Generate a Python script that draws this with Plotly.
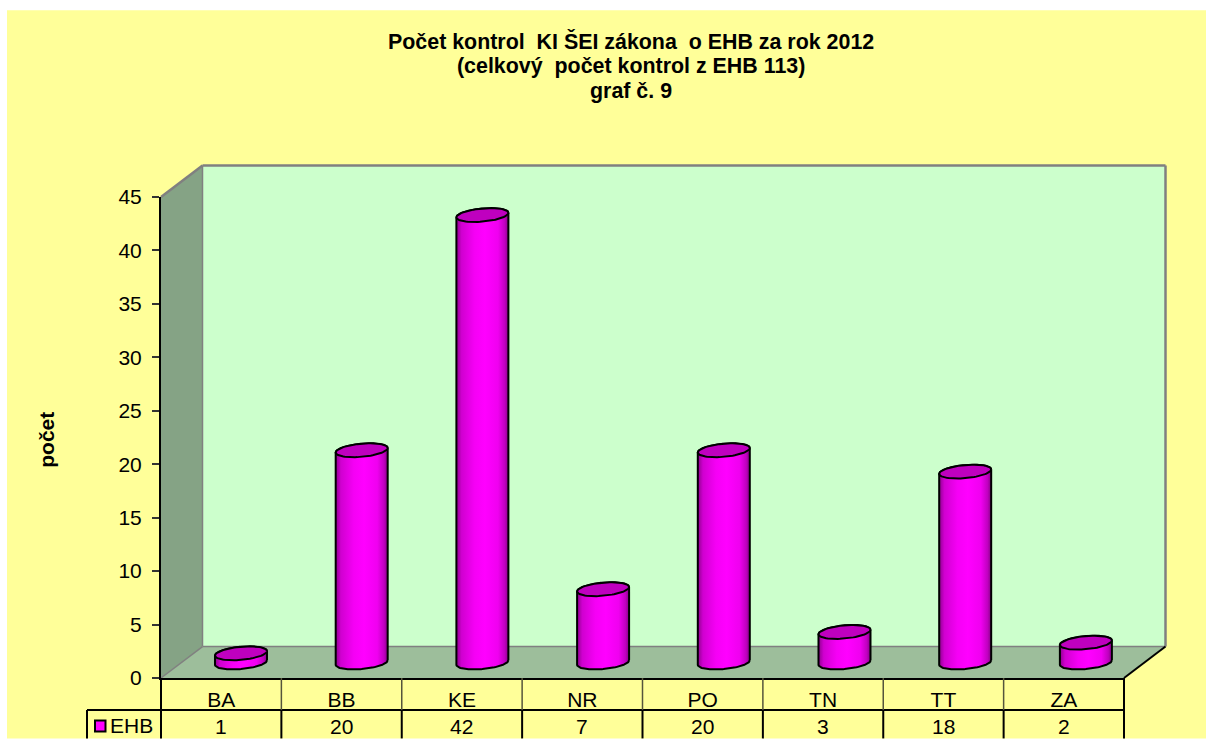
import math
import plotly.graph_objects as go

# ---- data ----
categories = ["BA", "BB", "KE", "NR", "PO", "TN", "TT", "ZA"]
ehb_values = [1, 20, 42, 7, 20, 3, 18, 2]
y_ticks = [0, 5, 10, 15, 20, 25, 30, 35, 40, 45]
series_name = "EHB"
title_lines = [
    "Počet kontrol\u00a0\u00a0KI ŠEI zákona\u00a0\u00a0o EHB za rok 2012",
    "(celkový\u00a0\u00a0počet kontrol z EHB 113)",
    "graf č. 9",
]
y_title = "počet"

# ---- page geometry (pixels) ----
W, H = 1206, 739
L, R, T, B = 161, 1124, 197, 678.5
DX, DY = 41.5, 31.5
FONT = "Liberation Sans"
YELLOW, BACK, SIDE, FLOOR = "#FFFF99", "#CCFFCC", "#85A385", "#9DBE9B"
GREY = "#808080"
MAG_TOP = "#BF00BF"

px_x = lambda v: (v - L) / (R - L)
px_y = lambda v: (B - v) / (B - T)
unit_x = (R - L) / len(categories)
unit_y = (B - T) / 45
bar_shift = 19.8 / unit_x          # depth of the bars, in category units
bar_spread = 120.7 / unit_x        # the back row is drawn slightly wider than the front
bar_base = (B - 664.5) / unit_y    # depth of the bars, in value units
foot_base = (B - 663) / unit_y     # centre of the foot ellipse
a_x = 26 / unit_x
b_y = 6.6 / unit_y
k_y = 2.25 / unit_y                # tilt: the left end of an ellipse sits lower


def ellipse(cx, cy, start=0, stop=360, n=72):
    pts = []
    for i in range(n + 1):
        t = math.radians(start + (stop - start) * i / n)
        pts.append((cx + a_x * math.cos(t), cy + b_y * math.sin(t) + k_y * math.cos(t)))
    return pts


fig = go.Figure()

bar_x = [i * bar_spread + bar_shift for i in range(len(categories))]

# flat core of every bar, drawn through the axes
fig.add_trace(go.Bar(
    x=bar_x,
    y=ehb_values, base=bar_base, width=0.35,
    marker=dict(color="#FF00FF", line=dict(width=0)),
    name=series_name, showlegend=False, hoverinfo="skip",
))

shade = [[0, "#8E008E"], [0.1, "#D000D0"], [0.35, "#F500F5"], [0.55, "#FF00FF"],
         [0.8, "#F000F0"], [0.93, "#C000C0"], [1, "#860086"]]

for cx, v in zip(bar_x, ehb_values):
    top = bar_base + v
    body = ellipse(cx, foot_base, 360, 180) + ellipse(cx, top, 180, 0)
    fig.add_trace(go.Scatter(
        x=[p[0] for p in body] + [body[0][0]],
        y=[p[1] for p in body] + [body[0][1]],
        mode="lines", fill="toself",
        fillgradient=dict(type="horizontal", colorscale=shade),
        line=dict(color="#000000", width=2),
        showlegend=False, hoverinfo="skip",
    ))
    cap = ellipse(cx, top)
    fig.add_trace(go.Scatter(
        x=[p[0] for p in cap], y=[p[1] for p in cap],
        mode="lines", fill="toself", fillcolor=MAG_TOP,
        line=dict(color="#000000", width=2),
        showlegend=False, hoverinfo="skip",
    ))


def poly(points, fill="rgba(0,0,0,0)", color=None, width=0):
    path = "M " + " L ".join(f"{px_x(x):.5f},{px_y(y):.5f}" for x, y in points) + " Z"
    return dict(type="path", path=path, xref="paper", yref="paper", layer="below",
                fillcolor=fill, line=dict(color=color or fill, width=width))


def seg(x0, y0, x1, y1, color="#000000", width=2, layer="above"):
    return dict(type="line", xref="paper", yref="paper", layer=layer,
                x0=px_x(x0), y0=px_y(y0), x1=px_x(x1), y1=px_y(y1),
                line=dict(color=color, width=width))


shapes = [
    poly([(7, 10), (W, 10), (W, H), (7, H)], YELLOW),
    poly([(L + DX, T - DY), (R + DX, T - DY), (R + DX, B - DY), (L + DX, B - DY)], BACK),
    poly([(L, T), (L + DX, T - DY), (L + DX, B - DY), (L, B)], SIDE),
    poly([(L, B), (L + DX, B - DY), (R + DX, B - DY), (R, B)], FLOOR),
    seg(L, T, L + DX, T - DY, GREY, 2.5, "below"),
    seg(L + DX, T - DY, R + DX, T - DY, GREY, 2.5, "below"),
    seg(R + DX, T - DY, R + DX, B - DY, GREY, 2.5, "below"),
    seg(L + DX, T - DY, L + DX, B - DY, GREY, 1.5, "below"),
    seg(L + DX, B - DY, R + DX, B - DY, GREY, 1.5, "below"),
    seg(L, B, L + DX, B - DY, GREY, 1.5, "below"),
    seg(R, B, R + DX, B - DY, "#000000", 2, "below"),
    # data table
    seg(87, 710.5, R, 710.5),
    seg(87, 710.5, 87, H),
    seg(L, B, L, H),
    seg(R, B, R, H),
    # legend key
    dict(type="rect", xref="paper", yref="paper",
         x0=px_x(95), x1=px_x(105.5), y0=px_y(732), y1=px_y(721),
         fillcolor="#FF00FF", line=dict(color="#000000", width=2)),
]
for i in range(1, len(categories)):
    x = L + i * unit_x
    shapes.append(seg(x, B, x, 710.5, "#55553C", 1.5))
    shapes.append(seg(x, 710.5, x, H))

annotations = [
    dict(x=i, y=px_y(727), xref="x", yref="paper", text=str(v), showarrow=False,
         font=dict(family=FONT, size=21, color="#000000"), xanchor="center", yanchor="middle")
    for i, v in enumerate(ehb_values)
]
annotations.append(dict(x=px_x(108), y=px_y(726.5), xref="paper", yref="paper", text=series_name,
                        showarrow=False, xanchor="left", yanchor="middle",
                        font=dict(family=FONT, size=21, color="#000000")))
for line, ypos in zip(title_lines, [41.5, 66, 90.5]):
    annotations.append(dict(x=px_x(630.5), y=px_y(ypos), xref="paper", yref="paper",
                            text=f"<b>{line}</b>",
                            showarrow=False, xanchor="center", yanchor="middle", align="center",
                            font=dict(family=FONT, size=21.4, color="#000000")))
annotations.append(dict(x=px_x(47), y=px_y(440), xref="paper", yref="paper",
                        text=f"<b>{y_title}</b>", textangle=-90,
                        showarrow=False, xanchor="center", yanchor="middle",
                        font=dict(family=FONT, size=21, color="#000000")))

fig.update_layout(
    width=W, height=H, autosize=False,
    margin=dict(l=L, r=W - R, t=T, b=H - B, pad=0),
    paper_bgcolor="#FFFFFF", plot_bgcolor="rgba(0,0,0,0)",
    showlegend=False, bargap=0,
    shapes=shapes, annotations=annotations,
    xaxis=dict(
        range=[-0.5, len(categories) - 0.5], tickmode="array",
        tickvals=list(range(len(categories))), ticktext=categories,
        ticks="", showgrid=False, zeroline=False,
        showline=True, linecolor="#000000", linewidth=2,
        ticklabelstandoff=2,
        tickfont=dict(family=FONT, size=21, color="#000000"),
    ),
    yaxis=dict(
        range=[0, 45], tickmode="array", tickvals=y_ticks,
        ticks="outside", ticklen=7, tickwidth=2, tickcolor="#333333",
        showgrid=False, zeroline=False,
        showline=True, linecolor="#000000", linewidth=2,
        ticklabelstandoff=6,
        tickfont=dict(family=FONT, size=21, color="#000000"),
    ),
)

fig.write_html("out.html", config=dict(displayModeBar=False),
               post_script="document.body.style.margin='0';document.documentElement.style.overflow='hidden';")
